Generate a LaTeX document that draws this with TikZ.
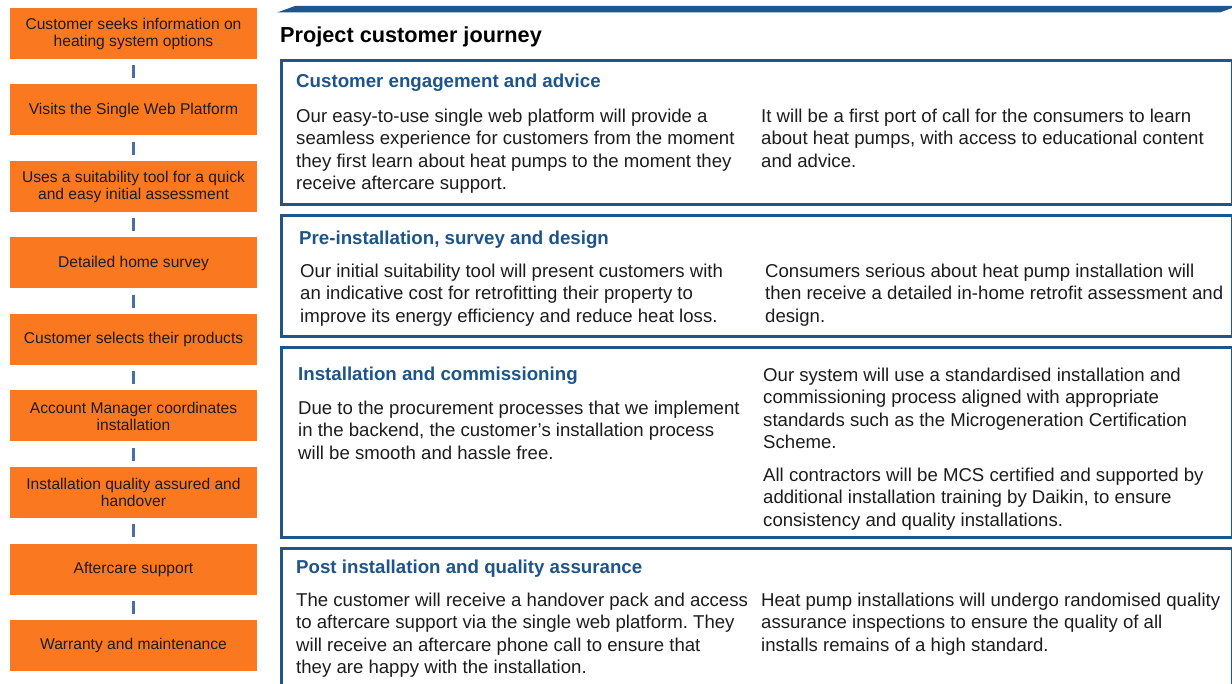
\documentclass[tikz,border=0pt]{standalone}
\usepackage{fontspec}
\setmainfont{Liberation Sans}
\frenchspacing
\definecolor{steporange}{RGB}{250,121,32}
\definecolor{linkblue}{RGB}{72,110,165}
\definecolor{frameblue}{RGB}{30,86,140}
\definecolor{headblue}{RGB}{30,84,138}
\definecolor{bodytext}{RGB}{28,28,28}
\begin{document}
\begin{tikzpicture}[x=1pt,y=-1pt,
  stepbox/.style={rectangle, fill=steporange, minimum width=247pt, minimum height=51pt,
    inner sep=0pt, align=center, text=bodytext,
    font=\fontsize{15.6}{17}\selectfont},
  link/.style={draw=linkblue, line width=2.6pt, shorten <=6pt, shorten >=6pt},
  panel/.style={draw=frameblue, line width=3pt},
  heading/.style={anchor=north west, inner sep=0pt, text=headblue,
    font=\fontsize{18.7}{20}\selectfont\bfseries},
  para/.style={anchor=north west, inner sep=0pt, align=left, text=bodytext,
    font=\fontsize{18.6}{22.6}\selectfont},
  title/.style={anchor=north west, inner sep=0pt, text=black,
    font=\fontsize{21.7}{24}\selectfont\bfseries}]
\useasboundingbox (0,0) rectangle (1232,684);
\clip (0,0) rectangle (1232,684);

% ---- left column: journey steps ----
\node[stepbox] (s1) at (133.5,33.5) {Customer seeks information on\\heating system options};
\node[stepbox] (s2) at (133.5,110) {Visits the Single Web Platform};
\node[stepbox] (s3) at (133.5,186.5) {Uses a suitability tool for a quick\\and easy initial assessment};
\node[stepbox] (s4) at (133.5,263) {Detailed home survey};
\node[stepbox] (s5) at (133.5,339.5) {Customer selects their products};
\node[stepbox] (s6) at (133.5,416) {Account Manager coordinates\\installation};
\node[stepbox] (s7) at (133.5,492.5) {Installation quality assured and\\handover};
\node[stepbox] (s8) at (133.5,569) {Aftercare support};
\node[stepbox] (s9) at (133.5,645.5) {Warranty and maintenance};
\foreach \a/\b in {s1/s2,s2/s3,s3/s4,s4/s5,s5/s6,s6/s7,s7/s8,s8/s9}
  \draw[link] (\a.south) -- (\b.north);

% ---- right column: header bar and title ----
\fill[frameblue] (277,12.5) -- (295,6) -- (1232,6) -- (1232,8) -- (1220,12.5) -- cycle;
\node[title] (title) at (280,25.5) {\strut Project customer journey};

% ---- panels ----
\draw[panel] (281,61) rectangle (1232,205);
\draw[panel] (281,216) rectangle (1232,337);
\draw[panel] (281,348) rectangle (1232,537);
\draw[panel] (281,548) rectangle (1232,700);

% Customer engagement and advice
\node[heading] (h1) at (296,73.5) {\strut Customer engagement and advice};
\node[para] (p1a) at (296,106) {\strut Our easy-to-use single web platform will provide a\\
seamless experience for customers from the moment\\
they first learn about heat pumps to the moment they\\
receive aftercare support.};
\node[para] (p1b) at (761,106) {\strut It will be a first port of call for the consumers to learn\\
about heat pumps, with access to educational content\\
and advice.};

% Pre-installation, survey and design
\node[heading] (h2) at (299,230.5) {\strut Pre-installation, survey and design};
\node[para] (p2a) at (300,261) {\strut Our initial suitability tool will present customers with\\
an indicative cost for retrofitting their property to\\
improve its energy efficiency and reduce heat loss.};
\node[para] (p2b) at (765,261) {\strut Consumers serious about heat pump installation will\\
then receive a detailed in-home retrofit assessment and\\
design.};

% Installation and commissioning
\node[heading] (h3) at (298,366.5) {\strut Installation and commissioning};
\node[para] (p3a) at (298,398) {\strut Due to the procurement processes that we implement\\
in the backend, the customer's installation process\\
will be smooth and hassle free.};
\node[para] (p3b) at (763,365) {\strut Our system will use a standardised installation and\\
commissioning process aligned with appropriate\\
standards such as the Microgeneration Certification\\
Scheme.};
\node[para] (p3c) at (763,465) {\strut All contractors will be MCS certified and supported by\\
additional installation training by Daikin, to ensure\\
consistency and quality installations.};

% Post installation and quality assurance
\node[heading] (h4) at (296,559.5) {\strut Post installation and quality assurance};
\node[para] (p4a) at (296,590) {\strut The customer will receive a handover pack and access\\
to aftercare support via the single web platform. They\\
will receive an aftercare phone call to ensure that\\
they are happy with the installation.};
\node[para] (p4b) at (761,590) {\strut Heat pump installations will undergo randomised quality\\
assurance inspections to ensure the quality of all\\
installs remains of a high standard.};
\end{tikzpicture}
\end{document}
